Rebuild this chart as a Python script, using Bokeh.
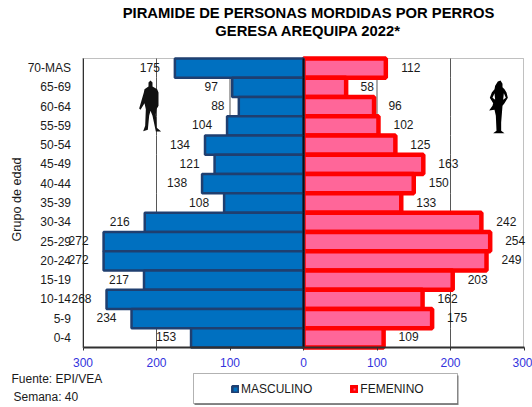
from math import pi
from bokeh.plotting import figure
from bokeh.embed import file_html
from bokeh.resources import INLINE
from bokeh.core.properties import value
from bokeh.models import Label, LabelSet, Legend, LegendItem, PolyAnnotation, BoxAnnotation, FixedTicker, ColumnDataSource

groups = ["70-MAS","65-69","60-64","55-59","50-54","45-49","40-44","35-39","30-34",
          "25-29","20-24","15-19","10-14","5-9","0-4"]
masculino = [175,97,88,104,134,121,138,108,216,272,272,217,268,234,153]
femenino = [112,58,96,102,125,163,150,133,242,254,249,203,162,175,109]
x_ticks = [-300,-200,-100,0,100,200,300]
title_lines = ["PIRAMIDE DE PERSONAS MORDIDAS POR PERROS", "GERESA AREQUIPA 2022*"]
FONT = "Liberation Sans"
W, H = 532, 405
FL, FR, FT, FB = 82, 523, 58, 347
X0 = 303
PX = (FR - FL) / 600
ROW = (FB - FT) / len(groups)

p = figure(width=W, height=H, y_range=groups[::-1],
           x_range=(-X0 / PX, (W - X0) / PX),
           output_backend="svg", toolbar_location=None,
           min_border_left=0, min_border_right=0, min_border_top=0, min_border_bottom=0)
p.y_range.range_padding = FT / ROW
p.y_range.range_padding_units = "absolute"
p.y_range.factor_padding = 0
p.grid.visible = False
p.outline_line_color = None

p.xaxis.fixed_location = 0
p.xaxis.bounds = (-300, 300)
p.xaxis.ticker = FixedTicker(ticks=x_ticks)
p.xaxis.major_label_overrides = {t: str(abs(t)) for t in x_ticks}
p.xaxis.major_label_text_color = "#3333DD"
p.xaxis.major_label_text_font = FONT
p.xaxis.major_label_text_font_size = "12px"
p.xaxis.major_label_standoff = 7
p.xaxis.major_tick_out = 3
p.xaxis.major_tick_in = 0
p.xaxis.minor_tick_line_color = None
p.xaxis.axis_line_color = "#303030"
p.xaxis.axis_line_width = 2
p.xaxis.major_tick_line_color = "#303030"

p.yaxis.fixed_location = -300
p.yaxis.bounds = (0, len(groups))
p.yaxis.major_tick_line_color = None
p.yaxis.minor_tick_line_color = None
p.yaxis.axis_line_color = "#303030"
p.yaxis.major_label_text_font = FONT
p.yaxis.major_label_text_font_size = "12px"
p.yaxis.major_label_text_color = "#1a1a1a"
p.yaxis.major_label_standoff = 6

# frame and vertical gridlines
p.add_layout(BoxAnnotation(left=FL, right=FR, top=FT, bottom=FB,
                           left_units="canvas", right_units="canvas",
                           top_units="canvas", bottom_units="canvas",
                           fill_alpha=0, line_color="#303030", line_width=1, level="underlay"))
for t in x_ticks[1:-1]:
    p.hbar(y=groups, left=t - 0.6, right=t + 0.6, height=1, color="#404040", line_width=0)

fem = p.hbar(y=groups, left=0, right=femenino, height=1,
             fill_color="#FF6699", line_color="#FF0000", line_width=4.5)
mas = p.hbar(y=groups, left=[-v for v in masculino], right=0, height=1,
             fill_color="#0070C0", line_color="#1F3F70", line_width=2.5)
p.hbar(y=groups, left=-1.2, right=1.2, height=1, color="#101010", line_width=0)

def offs(vals, sign):
    return [sign * (21 if v < 100 else 25) for v in vals]

for xs, vals, sign in (([-v for v in masculino], masculino, -1), (femenino, femenino, 1)):
    src = ColumnDataSource(dict(x=xs, y=groups, t=[str(v) for v in vals], o=offs(vals, sign)))
    p.add_layout(LabelSet(x="x", y="y", text="t", x_offset="o", y_offset=1, source=src,
                          text_font=value(FONT), text_font_size=value("12px"), text_color="#1a1a1a",
                          text_align="center", text_baseline="middle"))

def label(text, px, py, size="12px", bold=False, align="left", angle=0, color="#1a1a1a"):
    p.add_layout(Label(x=px, y=H - py, x_units="screen", y_units="screen",
                       text=text, text_font=FONT, text_font_size=size,
                       text_font_style="bold" if bold else "normal",
                       text_align=align, text_baseline="middle", angle=angle,
                       text_color=color))

label(title_lines[0], 308, 12.5, "14.8px", True, "center", color="#000000")
label(title_lines[1], 308, 30, "14.8px", True, "center", color="#000000")
label("Grupo de edad", 16, 199, "12.6px", False, "center", angle=pi/2)
label("Fuente: EPI/VEA", 11, 378)
label("Semana: 40", 13, 396)

def poly(pts, ox, oy, fill):
    p.add_layout(PolyAnnotation(xs=[ox + a/3 for a, b in pts],
                                ys=[oy + b/3 for a, b in pts],
                                xs_units="canvas", ys_units="canvas",
                                fill_color=fill, fill_alpha=1, line_color=None))

man = [(54,30),(60,24),(66,30),(66,42),(80,50),(84,60),(84,100),(78,110),(76,125),(78,165),
       (92,177),(76,177),(66,130),(60,115),(56,130),(52,172),(38,176),(44,160),(46,110),(42,92),
       (30,112),(26,108),(40,60),(42,50),(54,42)]
woman = [(52,27),(60,24),(66,34),(66,44),(72,50),(78,60),(82,76),(72,92),(66,100),(62,150),
         (62,175),(72,182),(38,182),(48,175),(46,130),(42,112),(26,114),(36,100),(38,92),(28,76),
         (34,60),(42,50),(44,40)]
poly(man, 130, 72, "#111111")
poly(woman, 480, 72, "#000000")
poly([(36,76),(42,62),(44,82)], 480, 72, "#ffffff")
poly([(70,62),(76,76),(68,82)], 480, 72, "#ffffff")

def rect(x0, y0, x1, y1, fill, line):
    p.add_layout(BoxAnnotation(left=x0, right=x1, top=y0, bottom=y1,
                               left_units="canvas", right_units="canvas",
                               top_units="canvas", bottom_units="canvas",
                               fill_color=fill, fill_alpha=1, line_color=line, line_width=1))
rect(194, 375, 458, 405, "#808080", None)
rect(193, 373, 457, 403, "#ffffff", "#000000")

leg = Legend(items=[LegendItem(label="MASCULINO", renderers=[mas]),
                    LegendItem(label="FEMENINO", renderers=[fem])],
             orientation="horizontal", location=(231, H - 396),
             border_line_color=None, background_fill_alpha=0, padding=0, margin=0,
             spacing=38, glyph_width=8, glyph_height=8, label_standoff=2,
             label_text_font=FONT, label_text_font_size="12px", label_text_color="#1a1a1a")
p.add_layout(leg, "center")

open("out.html", "w").write(file_html(p, INLINE))
